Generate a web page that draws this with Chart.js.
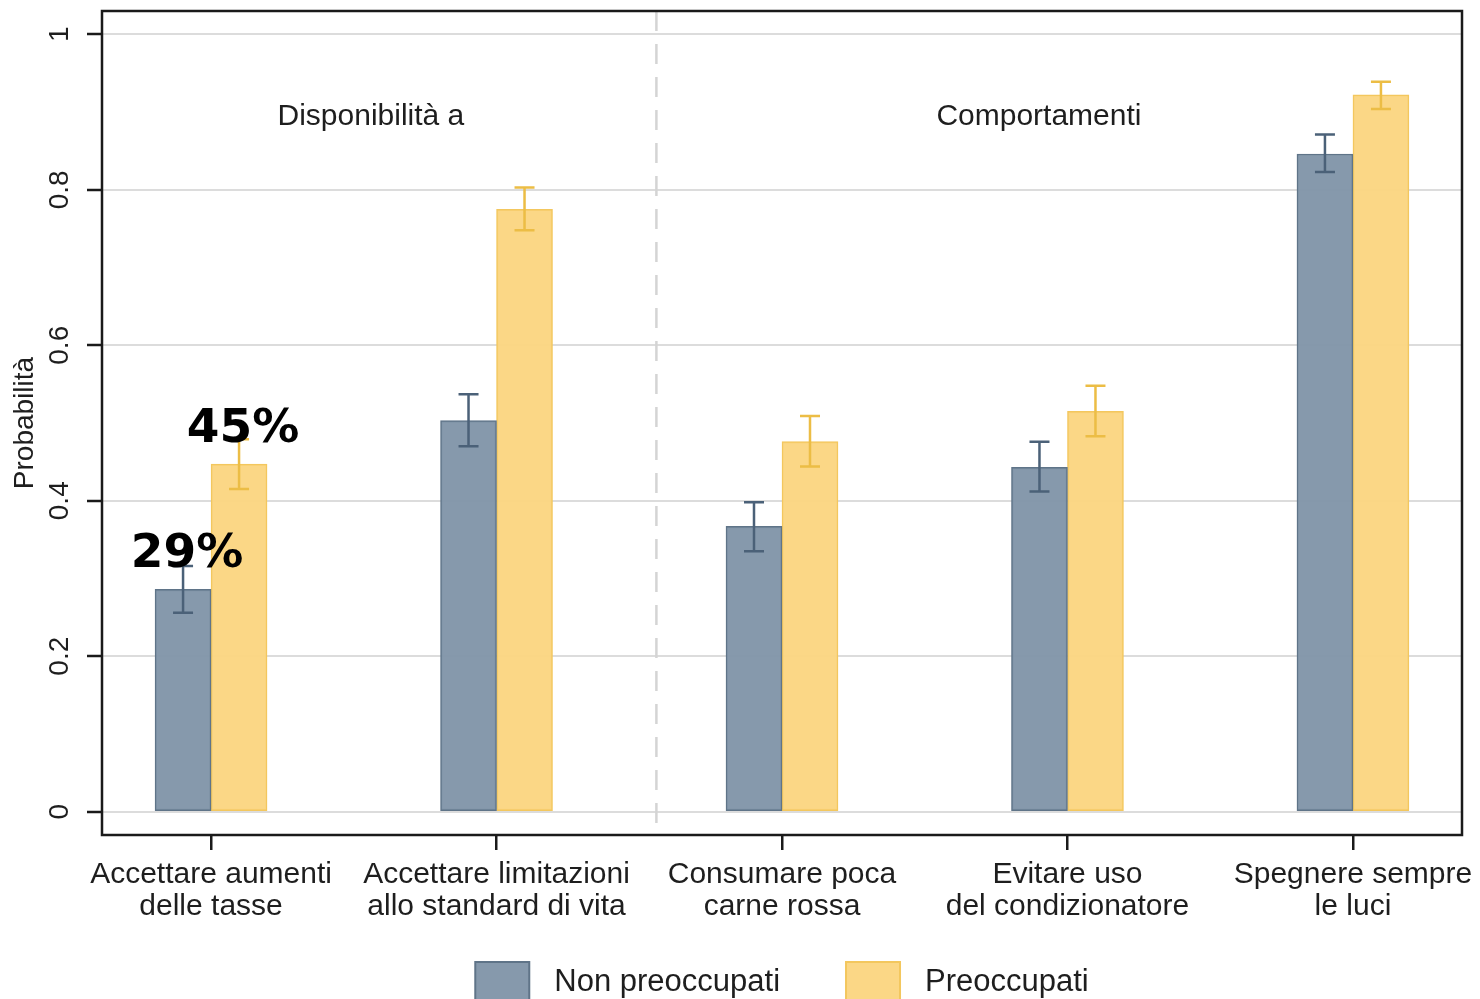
<!DOCTYPE html>
<html>
<head>
<meta charset="utf-8">
<script src="https://cdn.jsdelivr.net/npm/chart.js@4.4.0/dist/chart.umd.min.js"></script>
<style>
  html, body { margin: 0; padding: 0; background: #ffffff; overflow: hidden; }
  canvas { display: block; }
</style>
</head>
<body>
<canvas id="chart" width="1480" height="1012"></canvas>
<script>
// ---- data ----
const categories = [
  ["Accettare aumenti", "delle tasse"],
  ["Accettare limitazioni", "allo standard di vita"],
  ["Consumare poca", "carne rossa"],
  ["Evitare uso", "del condizionatore"],
  ["Spegnere sempre", "le luci"]
];
const seriesNames = ["Non preoccupati", "Preoccupati"];
const nonPreoccupati = [0.286, 0.503, 0.367, 0.443, 0.846];
const nonLow         = [0.256, 0.470, 0.335, 0.412, 0.823];
const nonHigh        = [0.316, 0.537, 0.398, 0.476, 0.871];
const preoccupati    = [0.447, 0.775, 0.476, 0.515, 0.922];
const preLow         = [0.415, 0.748, 0.444, 0.483, 0.904];
const preHigh        = [0.479, 0.803, 0.509, 0.548, 0.939];
const yTicks      = [0, 0.2, 0.4, 0.6, 0.8, 1];
const yTickLabels = ["0", "0.2", "0.4", "0.6", "0.8", "1"];
const yTitle = "Probabilità";
const groupTitles = ["Disponibilità a", "Comportamenti"];
const groupTitleX = [0.56, 2.9];   // in category units
const groupTitleY = 0.894;
const dividerAt = 1.56;            // separates the two groups
const labelledCategory = 0;        // category whose bars carry % labels

// ---- styles ----
const fillColors   = ["rgba(128,148,168,0.95)", "rgba(251,213,128,0.95)"];
const borderColors = ["#5f7488", "#f3c75e"];
const whiskerColors = ["#4b6178", "#ecbd45"];
const textColor = "#1e1e1e";
const baseFont = "'Liberation Sans', Arial, sans-serif";

const toPoints = arr => arr.map((v, i) => ({ x: i, y: v }));
const lows  = [nonLow, preLow];
const highs = [nonHigh, preHigh];

const framePlugin = {
  id: "frame",
  beforeDatasetsDraw(chart) {
    const { ctx, chartArea: a, scales } = chart;
    const x = scales.x.getPixelForValue(dividerAt);
    ctx.save();
    ctx.strokeStyle = "#d4d4d4";
    ctx.lineWidth = 2.5;
    ctx.setLineDash([20, 13]);
    ctx.beginPath();
    ctx.moveTo(x, a.top);
    ctx.lineTo(x, a.bottom);
    ctx.stroke();
    ctx.restore();
  },
  afterDatasetsDraw(chart) {
    const { ctx, scales } = chart;
    // error whiskers
    chart.data.datasets.forEach((ds, d) => {
      const meta = chart.getDatasetMeta(d);
      meta.data.forEach((bar, i) => {
        const x = bar.x;
        const yl = scales.y.getPixelForValue(lows[d][i]);
        const yh = scales.y.getPixelForValue(highs[d][i]);
        ctx.save();
        ctx.strokeStyle = whiskerColors[d];
        ctx.lineWidth = 2.5;
        ctx.beginPath();
        ctx.moveTo(x, yl); ctx.lineTo(x, yh);
        ctx.moveTo(x - 10, yl); ctx.lineTo(x + 10, yl);
        ctx.moveTo(x - 10, yh); ctx.lineTo(x + 10, yh);
        ctx.stroke();
        ctx.restore();
      });
    });
    // percentage labels
    chart.data.datasets.forEach((ds, d) => {
      const bar = chart.getDatasetMeta(d).data[labelledCategory];
      const v = ds.data[labelledCategory].y;
      ctx.save();
      ctx.fillStyle = "#000";
      ctx.font = "bold 47px 'DejaVu Sans', sans-serif";
      ctx.textAlign = "center";
      ctx.textBaseline = "alphabetic";
      ctx.fillText(Math.round(v * 100) + "%", bar.x + 4, bar.y - 22);
      ctx.restore();
    });
  },
  afterDraw(chart) {
    const { ctx, chartArea: a, scales } = chart;
    ctx.save();
    // plot frame
    ctx.strokeStyle = "#1a1a1a";
    ctx.lineWidth = 2.5;
    ctx.strokeRect(a.left, a.top, a.right - a.left, a.bottom - a.top);

    // y tick labels, rotated
    ctx.fillStyle = textColor;
    ctx.font = "28px " + baseFont;
    ctx.textAlign = "center";
    ctx.textBaseline = "middle";
    yTicks.forEach((v, i) => {
      const y = scales.y.getPixelForValue(v);
      ctx.save();
      ctx.translate(a.left - 42, y);
      ctx.rotate(-Math.PI / 2);
      ctx.fillText(yTickLabels[i], 0, 0);
      ctx.restore();
    });

    // group headings
    ctx.font = "30px " + baseFont;
    ctx.textBaseline = "middle";
    groupTitles.forEach((t, i) => {
      ctx.fillText(t, scales.x.getPixelForValue(groupTitleX[i]), scales.y.getPixelForValue(groupTitleY));
    });

    // legend centred under the plot
    ctx.font = "31px " + baseFont;
    const sw = 54, sh = 40, gap = 25, itemGap = 66;
    const widths = seriesNames.map(n => sw + gap + ctx.measureText(n).width);
    const total = widths.reduce((s, w) => s + w, 0) + itemGap * (widths.length - 1);
    let lx = (a.left + a.right) / 2 - total / 2;
    const cy = a.bottom + 147;
    seriesNames.forEach((n, d) => {
      ctx.fillStyle = fillColors[d];
      ctx.fillRect(lx, cy - sh / 2, sw, sh);
      ctx.strokeStyle = borderColors[d];
      ctx.lineWidth = 2;
      ctx.strokeRect(lx, cy - sh / 2, sw, sh);
      ctx.fillStyle = textColor;
      ctx.textAlign = "left";
      ctx.textBaseline = "middle";
      ctx.fillText(n, lx + sw + gap, cy);
      lx += widths[d] + itemGap;
    });
    ctx.restore();
  }
};

new Chart(document.getElementById("chart"), {
  type: "bar",
  data: {
    datasets: [
      { label: seriesNames[0], data: toPoints(nonPreoccupati),
        backgroundColor: fillColors[0], borderColor: borderColors[0], borderWidth: 1.5, borderSkipped: false },
      { label: seriesNames[1], data: toPoints(preoccupati),
        backgroundColor: fillColors[1], borderColor: borderColors[1], borderWidth: 1.5, borderSkipped: false }
    ]
  },
  options: {
    responsive: false,
    animation: false,
    barThickness: 56,
    layout: { padding: { top: 11, right: 18, left: 0, bottom: 0 } },
    plugins: { legend: { display: false }, tooltip: { enabled: false } },
    scales: {
      x: {
        type: "linear",
        offset: false,
        min: -0.382, max: 4.382,
        afterBuildTicks: s => { s.ticks = categories.map((_, i) => ({ value: i })); },
        afterFit: s => { s.height = 177; s.paddingLeft = 0; s.paddingRight = 0; },
        border: { display: false },
        grid: { offset: false, drawOnChartArea: false, color: "#1a1a1a", tickColor: "#1a1a1a", tickLength: 15, lineWidth: 2.5 },
        ticks: {
          callback: (v, i) => categories[i],
          autoSkip: false, maxRotation: 0, minRotation: 0,
          color: textColor, padding: 9,
          font: { family: baseFont, size: 30, lineHeight: 1.05 }
        }
      },
      y: {
        type: "linear",
        min: -0.03, max: 1.03,
        afterBuildTicks: s => { s.ticks = yTicks.map(v => ({ value: v })); },
        afterFit: s => { s.width = 102; },
        border: { display: false },
        grid: { color: "#dcdcdc", lineWidth: 2, tickColor: "#1a1a1a", tickLength: 15, tickWidth: 2.5 },
        ticks: { display: false },
        title: {
          display: true, text: yTitle, color: textColor,
          font: { family: baseFont, size: 28 }, padding: { top: 8, bottom: 0 }
        }
      }
    }
  },
  plugins: [framePlugin]
});
</script>
</body>
</html>
